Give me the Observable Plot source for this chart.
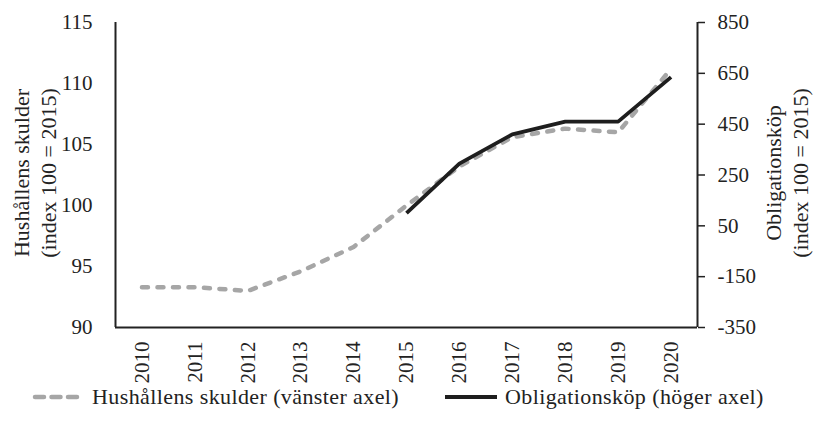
<!DOCTYPE html>
<html>
<head>
<meta charset="utf-8">
<script src="https://cdn.jsdelivr.net/npm/d3@7"></script>
<script src="https://cdn.jsdelivr.net/npm/@observablehq/plot@0.6"></script>
<style>
  html, body { margin: 0; padding: 0; background: #fff; }
  #wrap { width: 816px; font-family: "Liberation Serif", "DejaVu Serif", serif; color: #222; }
  #legend { position: relative; width: 816px; height: 35px; font-size: 22px; letter-spacing: 0.4px; }
  #legend .item { position: absolute; top: -7px; height: 28px; display: flex; align-items: center; white-space: nowrap; }
</style>
</head>
<body>
<div id="wrap">
  <div id="chart"></div>
  <div id="legend"></div>
</div>
<script>
// ---- Data ----
const years = [2010, 2011, 2012, 2013, 2014, 2015, 2016, 2017, 2018, 2019, 2020];
const debt = [93.3, 93.3, 93.0, 94.6, 96.6, 100.0, 103.2, 105.6, 106.3, 106.0, 111.2];
const bondYears = [2015, 2016, 2017, 2018, 2019, 2020];
const bonds = [100, 295, 410, 460, 460, 635];
const leftTicks = [90, 95, 100, 105, 110, 115];
const rightTicks = [-350, -150, 50, 250, 450, 650, 850];
const seriesNames = ["Hushållens skulder (vänster axel)", "Obligationsköp (höger axel)"];
const leftTitle = "Hushållens skulder\n(index 100 = 2015)";
const rightTitle = "Obligationsköp\n(index 100 = 2015)";

// right axis domain mapped onto left domain
const L0 = 90, L1 = 115, R0 = -350, R1 = 850;
const toLeft = v => L0 + (v - R0) * (L1 - L0) / (R1 - R0);
const toRight = v => R0 + (v - L0) * (R1 - R0) / (L1 - L0);

const debtData = years.map((y, i) => ({year: y, value: debt[i]}));
const bondData = bondYears.map((y, i) => ({year: y, value: toLeft(bonds[i])}));

const GRAY = "#a6a6a6";
const BLACK = "#1e1e1e";
const AXIS = "#222";

const chart = Plot.plot({
  width: 816,
  height: 390,
  marginTop: 22,
  marginBottom: 63,
  marginLeft: 115,
  marginRight: 119,
  style: {fontFamily: "'Liberation Serif', 'DejaVu Serif', serif", fontSize: "21px", color: AXIS, background: "#fff"},
  x: {domain: [2009.5, 2020.5]},
  y: {domain: [L0, L1]},
  marks: [
    Plot.axisX(years, {tickSize: 0, tickPadding: 14, tickRotate: -90, tickFormat: d => String(d), label: null, fontSize: 21}),
    Plot.axisY(leftTicks, {anchor: "left", tickSize: 0, tickPadding: 23, label: null, fontSize: 21}),
    Plot.axisY(rightTicks.map(toLeft), {anchor: "right", tickSize: 7, tickPadding: 13, strokeWidth: 1.5, stroke: AXIS, tickFormat: d => String(Math.round(toRight(d))), label: null, fontSize: 21}),
    Plot.ruleX([2009.5], {stroke: AXIS, strokeWidth: 2}),
    Plot.ruleX([2020.5], {stroke: AXIS, strokeWidth: 2}),
    Plot.ruleY([L0], {stroke: AXIS, strokeWidth: 2}),
    Plot.line(debtData, {x: "year", y: "value", stroke: GRAY, strokeWidth: 4.5, strokeDasharray: "6,9.5", strokeLinecap: "round", strokeLinejoin: "round"}),
    Plot.line(bondData, {x: "year", y: "value", stroke: BLACK, strokeWidth: 3.8, strokeLinejoin: "miter", strokeLinecap: "butt"}),
    Plot.text([leftTitle], {frameAnchor: "left", dx: -82, dy: -2, rotate: -90, textAnchor: "middle", lineAnchor: "middle", lineHeight: 1.22, fontSize: 22, fill: AXIS, letterSpacing: "0.4px"}),
    Plot.text([rightTitle], {frameAnchor: "right", dx: 88, dy: -2, rotate: -90, textAnchor: "middle", lineAnchor: "middle", lineHeight: 1.22, fontSize: 22, fill: AXIS, letterSpacing: "0.3px"})
  ]
});
document.getElementById("chart").appendChild(chart);

// ---- Legend ----
const legend = document.getElementById("legend");
function addItem(left, swatch, label) {
  const d = document.createElement("div");
  d.className = "item";
  d.style.left = left + "px";
  d.innerHTML = swatch + `<span style="margin-left:8px">${label}</span>`;
  legend.appendChild(d);
}
addItem(32, `<svg width="52" height="10"><line x1="3" y1="5" x2="50" y2="5" stroke="${GRAY}" stroke-width="4.5" stroke-dasharray="9,7.5" stroke-linecap="round"/></svg>`, seriesNames[0]);
addItem(445, `<svg width="52" height="10"><line x1="0" y1="5" x2="52" y2="5" stroke="${BLACK}" stroke-width="4"/></svg>`, seriesNames[1]);
</script>
</body>
</html>
